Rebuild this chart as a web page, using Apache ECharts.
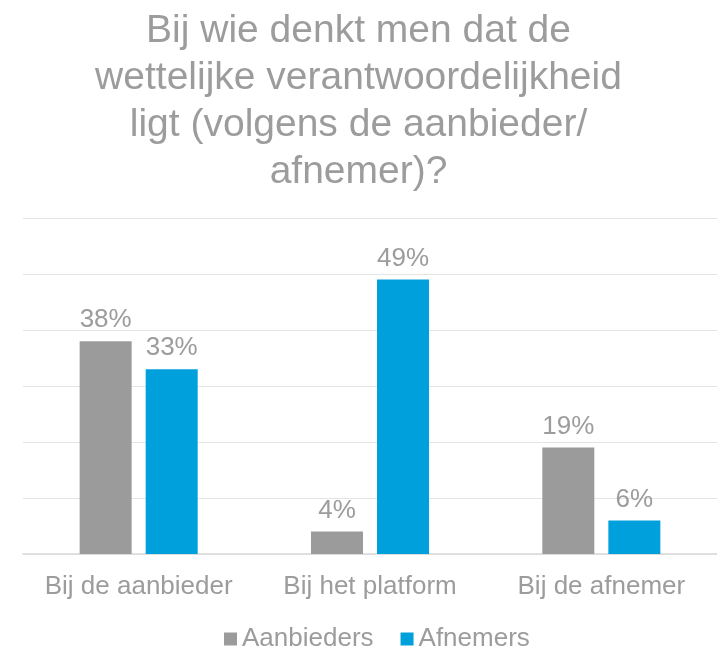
<!DOCTYPE html>
<html lang="nl">
<head>
    <meta charset="UTF-8">
    <title>Wettelijke verantwoordelijkheid</title>
    <script type="text/javascript" src="https://cdn.jsdelivr.net/npm/echarts@6/dist/echarts.min.js"></script>
    <style>
        html, body { margin: 0; padding: 0; background: #fff; }
    </style>
</head>
<body>
<div id="myChart" style="width:717px;height:647px;"></div>
<script type="text/javascript">
    var categories = ['Bij de aanbieder', 'Bij het platform', 'Bij de afnemer'];
    var aanbieders = [38, 4, 19]; // grijs
    var afnemers = [33, 49, 6];   // blauw
    var seriesNames = ['Aanbieders', 'Afnemers'];

    var textGrey = '#9c9c9c';
    var font = 'Liberation Sans';

    var myChart = echarts.init(document.getElementById('myChart'));
    var labelCfg = {
        show: true,
        position: 'top',
        distance: 8,
        formatter: '{c}%',
        color: textGrey,
        fontSize: 26,
        fontFamily: font
    };
    var option = {
        animation: false,
        color: ['#9b9b9b', '#00a0dd'],
        title: {
            text: 'Bij wie denkt men dat de\nwettelijke verantwoordelijkheid\nligt (volgens de aanbieder/\nafnemer)?',
            left: 'center',
            top: 3,
            textStyle: {
                color: textGrey,
                fontSize: 39,
                fontWeight: 'normal',
                fontFamily: font,
                lineHeight: 47
            }
        },
        legend: {
            data: seriesNames,
            top: 621,
            left: 219,
            icon: 'rect',
            itemWidth: 13,
            itemHeight: 13,
            itemGap: 27,
            textStyle: {
                color: textGrey,
                fontSize: 26,
                fontFamily: font
            }
        },
        grid: {
            top: 218,
            bottom: 93,
            left: 23,
            right: -2
        },
        xAxis: {
            type: 'category',
            data: categories,
            axisTick: {show: false},
            axisLine: {lineStyle: {color: '#d9d9d9', width: 1.5}},
            axisLabel: {
                interval: 0,
                color: textGrey,
                fontSize: 26,
                fontFamily: font,
                margin: 20
            }
        },
        yAxis: {
            type: 'value',
            min: 0,
            max: 60,
            interval: 10,
            axisLabel: {show: false},
            axisLine: {show: false},
            axisTick: {show: false},
            splitLine: {lineStyle: {color: '#e4e4e4', width: 1}}
        },
        series: [
            {
                name: seriesNames[0],
                type: 'bar',
                barWidth: 52,
                barGap: '27%',
                data: aanbieders,
                label: labelCfg
            },
            {
                name: seriesNames[1],
                type: 'bar',
                barWidth: 52,
                data: afnemers,
                label: labelCfg
            }
        ]
    };
    myChart.setOption(option);
</script>
</body>
</html>
